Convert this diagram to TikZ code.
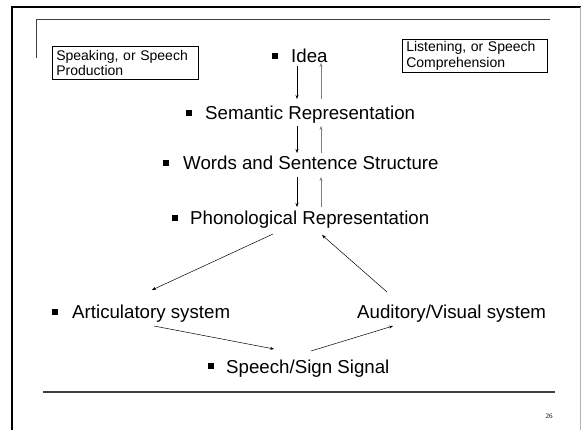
\documentclass[tikz,border=0pt]{standalone}
\usepackage{fontspec}
\setmainfont{Liberation Sans}
\newfontfamily\pgserif{Liberation Serif}
\usetikzlibrary{arrows.meta}
\begin{document}
\begin{tikzpicture}[x=1pt,y=-1pt,
  item/.style={anchor=base west, inner sep=0pt, font=\fontsize{18.7}{22}\selectfont},
  bul/.style={fill=black, minimum size=6.5pt, inner sep=0pt},
  lbl/.style={draw, line width=0.6pt, align=left, inner xsep=4pt, inner ysep=2pt,
    font=\fontsize{14}{15.5}\selectfont, anchor=north west},
  arr/.style={-{Stealth[length=4pt,width=3pt]}, line width=0.5pt},
  arrg/.style={arr, draw=gray, fill=gray}]
\useasboundingbox (0,0) rectangle (581,430);
% frame
\draw[line width=2pt] (12,430) -- (12,7) -- (581,7);
\draw[gray!60, line width=0.6pt] (580,7) -- (580,430);
\draw[line width=1pt, black!75] (36,58) -- (36,20) -- (550,20);
\draw[line width=1.2pt, black!75] (43,392) -- (555,392);
\node[font=\pgserif\fontsize{7}{8}\selectfont, anchor=base] (pg) at (549,418) {26};
% boxes
\node[lbl, minimum width=146pt, minimum height=33pt, text width=138pt] (spk) at (52,46) {Speaking, or Speech\\Production};
\node[lbl, minimum width=145pt, minimum height=33pt, text width=137pt] (lis) at (402,39) {Listening, or Speech\\Comprehension};
% items
\node[bul] (b1) at (275,56) {};
\node[item] (idea) at (291,63) {Idea};
\node[bul] (b2) at (189,113) {};
\node[item] (sem) at (205,120) {Semantic Representation};
\node[bul] (b3) at (166,163) {};
\node[item] (wrd) at (183,170) {Words and Sentence Structure};
\node[bul] (b4) at (175,218) {};
\node[item] (pho) at (190,225) {Phonological Representation};
\node[bul] (b5) at (55,312) {};
\node[item] (art) at (72,319) {Articulatory system};
\node[item] (aud) at (357,319) {Auditory/Visual system};
\node[bul] (b6) at (211,366) {};
\node[item] (sig) at (226,373) {Speech/Sign Signal};
% vertical arrows
\coordinate (d1s) at (297,66); \coordinate (d1e) at (297,99);
\coordinate (u1s) at (321,99); \coordinate (u1e) at (321,63);
\draw[arr] (d1s) -- (d1e);
\draw[arrg] (u1s) -- (u1e);
\coordinate (d2s) at (297,126); \coordinate (d2e) at (297,153);
\coordinate (u2s) at (321,153); \coordinate (u2e) at (321,126);
\draw[arr] (d2s) -- (d2e);
\draw[arrg] (u2s) -- (u2e);
\coordinate (d3s) at (297,177); \coordinate (d3e) at (297,207);
\coordinate (u3s) at (321,207); \coordinate (u3e) at (321,177);
\draw[arr] (d3s) -- (d3e);
\draw[arrg] (u3s) -- (u3e);
% diagonal arrows
\coordinate (p1) at (273,234); \coordinate (a1) at (152,290);
\draw[arr] (p1) -- (a1);
\coordinate (p2) at (387,292); \coordinate (a2) at (322,235);
\draw[arr] (p2) -- (a2);
\coordinate (p3) at (154,326); \coordinate (a3) at (274,349);
\draw[arr] (p3) -- (a3);
\coordinate (p4) at (311,351); \coordinate (a4) at (393,326);
\draw[arr] (p4) -- (a4);
\end{tikzpicture}
\end{document}
